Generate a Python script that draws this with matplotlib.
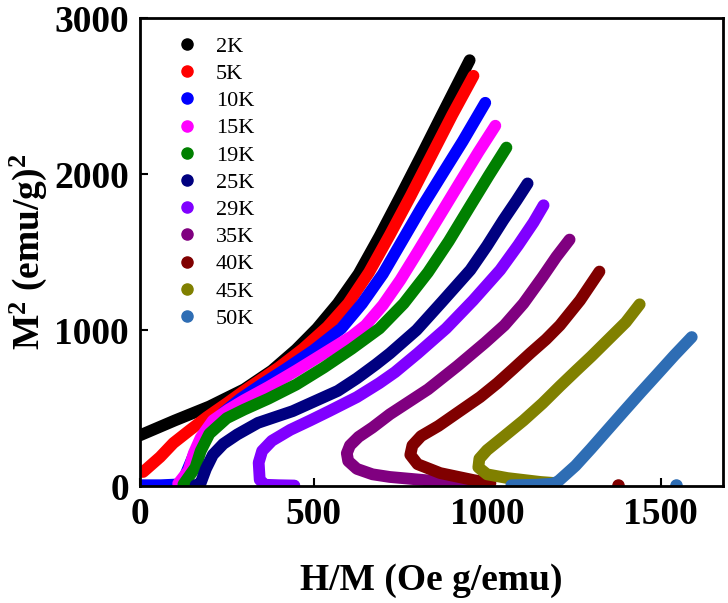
import matplotlib
matplotlib.use("Agg")
import matplotlib.pyplot as plt
from matplotlib.lines import Line2D

plt.rcParams["font.family"] = ["Liberation Serif", "DejaVu Serif"]
plt.rcParams["font.weight"] = "bold"
plt.rcParams["mathtext.fontset"] = "custom"
plt.rcParams["mathtext.rm"] = "Liberation Serif:bold"
plt.rcParams["mathtext.bf"] = "Liberation Serif:bold"
plt.rcParams["mathtext.default"] = "bf"

# --- curvas M^2 vs H/M ---
hm_2K = [0, 100, 200, 300, 380, 450, 510, 570, 630, 690, 750, 810, 870, 950]
m2_2K = [325, 420, 510, 620, 740, 875, 1010, 1170, 1360, 1600, 1855, 2115, 2380, 2730]

hm_5K = [9, 58, 96, 144, 193, 250, 300, 400, 470, 540, 600, 660, 720, 780, 840, 900, 961]
m2_5K = [90, 186, 275, 359, 442, 530, 610, 760, 880, 1020, 1170, 1370, 1610, 1860, 2120, 2380, 2630]

hm_10K = [0, 60, 110, 125, 140, 155, 175, 200, 240, 290, 350, 420, 500, 580, 640, 700, 755, 810, 874, 930, 995]
m2_10K = [5, 5, 10, 40, 120, 200, 275, 345, 470, 560, 650, 750, 870, 1010, 1170, 1360, 1570, 1780, 2010, 2210, 2457]

hm_15K = [110, 140, 155, 175, 210, 255, 300, 370, 450, 530, 610, 650, 700, 750, 800, 860, 920, 975, 1024]
m2_15K = [15, 100, 210, 310, 420, 490, 550, 635, 740, 850, 960, 1030, 1160, 1320, 1500, 1720, 1940, 2140, 2310]

hm_19K = [125, 160, 175, 200, 250, 300, 370, 450, 530, 610, 690, 760, 830, 890, 950, 1005, 1056]
m2_19K = [10, 120, 225, 335, 435, 490, 560, 650, 760, 880, 1010, 1170, 1370, 1570, 1790, 1990, 2170]

hm_25K = [160, 175, 190, 210, 240, 280, 340, 440, 500, 570, 625, 680, 720, 797, 870, 952, 1000, 1047, 1085, 1117]
m2_25K = [5, 20, 110, 200, 270, 330, 405, 480, 540, 610, 690, 780, 850, 1000, 1180, 1385, 1540, 1705, 1830, 1940]

hm_29K = [445, 400, 360, 345, 342, 352, 380, 433, 490, 545, 625, 690, 735, 800, 882, 960, 1038, 1090, 1134, 1163]
m2_29K = [3, 5, 8, 40, 150, 225, 290, 360, 420, 480, 570, 660, 730, 850, 1010, 1190, 1385, 1545, 1690, 1800]

hm_35K = [960, 915, 820, 720, 670, 625, 600, 596, 605, 630, 670, 720, 830, 915, 995, 1050, 1105, 1160, 1200, 1238]
m2_35K = [15, 20, 38, 58, 75, 110, 160, 210, 260, 315, 375, 460, 620, 770, 920, 1030, 1170, 1340, 1470, 1580]

hm_40K = [1010, 961, 865, 800, 779, 785, 810, 860, 915, 980, 1030, 1075, 1125, 1170, 1210, 1268, 1324]
m2_40K = [19, 38, 83, 140, 200, 260, 320, 385, 470, 570, 660, 750, 852, 940, 1030, 1190, 1375]

hm_45K = [1190, 1154, 1059, 1000, 975, 978, 1000, 1050, 1105, 1160, 1210, 1257, 1300, 1350, 1400, 1440]
m2_45K = [20, 26, 51, 75, 120, 175, 230, 320, 420, 530, 640, 740, 830, 940, 1050, 1165]

hm_50K = [1070, 1140, 1190, 1205, 1225, 1255, 1300, 1347, 1395, 1443, 1490, 1540, 1590]
m2_50K = [5, 8, 15, 30, 70, 130, 240, 359, 480, 600, 715, 838, 955]

# pontos isolados no eixo
hm_40K_iso = [1378]
m2_40K_iso = [5]
hm_50K_iso = [1545]
m2_50K_iso = [5]

labels = ["2K", "5K", "10K", "15K", "19K", "25K", "29K", "35K", "40K", "45K", "50K"]
colors = ["black", "#ff0000", "#0000ff", "#ff00ff", "#008000", "#000080",
          "#8000ff", "#800080", "#800000", "#808000", "#2e6db4"]
series = [(hm_2K, m2_2K), (hm_5K, m2_5K), (hm_10K, m2_10K), (hm_15K, m2_15K),
          (hm_19K, m2_19K), (hm_25K, m2_25K), (hm_29K, m2_29K), (hm_35K, m2_35K),
          (hm_40K, m2_40K), (hm_45K, m2_45K), (hm_50K, m2_50K)]

fig = plt.figure(figsize=(7.28, 6.03), dpi=100)
ax = fig.add_axes([0.1923, 0.194, 0.8008, 0.776])

for (x, y), c in zip(series, colors):
    ax.plot(x, y, color=c, lw=8.5, solid_capstyle="round", solid_joinstyle="round")

ax.plot(hm_40K_iso, m2_40K_iso, "o", color=colors[8], ms=8)
ax.plot(hm_50K_iso, m2_50K_iso, "o", color=colors[10], ms=8)

ax.set_xlim(0, 1680)
ax.set_ylim(0, 3000)
ax.set_xticks([0, 500, 1000, 1500])
ax.set_yticks([0, 1000, 2000, 3000])
ax.tick_params(direction="in", length=6, width=1.5, labelsize=27, pad=8)
for s in ax.spines.values():
    s.set_linewidth(2)

ax.set_xlabel("H/M (Oe g/emu)", fontsize=27, fontweight="bold", labelpad=22)
ax.set_ylabel("M$^2$ (emu/g)$^2$", fontsize=27, fontweight="bold", labelpad=4)

handles = [Line2D([], [], ls="none", marker="o", ms=8, color=c) for c in colors]
ax.legend(handles, labels, loc="upper left", bbox_to_anchor=(0.0617, 0.9615),
          frameon=False, borderpad=0, borderaxespad=0, handlelength=1.0,
          handletextpad=0.8, labelspacing=0.3,
          prop={"family": "Liberation Serif", "weight": "normal", "size": 16})

fig.savefig("out.png", dpi=100)
